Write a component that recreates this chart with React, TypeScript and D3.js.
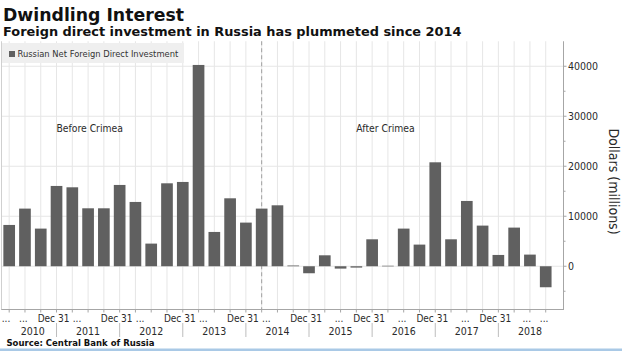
import React from "react";
import * as d3 from "d3";

const quarters = [
  "2010Q1","2010Q2","2010Q3","2010Q4","2011Q1","2011Q2","2011Q3","2011Q4",
  "2012Q1","2012Q2","2012Q3","2012Q4","2013Q1","2013Q2","2013Q3","2013Q4",
  "2014Q1","2014Q2","2014Q3","2014Q4","2015Q1","2015Q2","2015Q3","2015Q4",
  "2016Q1","2016Q2","2016Q3","2016Q4","2017Q1","2017Q2","2017Q3","2017Q4",
  "2018Q1","2018Q2","2018Q3",
];
const fdiValues = [
  8260, 11530, 7530, 16060, 15790, 11590, 11590, 16260, 12860, 4530,
  16590, 16860, 40260, 6860, 13590, 8730, 11530, 12190, 150, -1400,
  2190, -470, -270, 5390, 100, 7530, 4330, 20790, 5390, 13060,
  8130, 2260, 7730, 2330, -4200,
];
const yMajorTicks = [0, 10000, 20000, 30000, 40000];
const yMinorTicks = [-5000, 5000, 15000, 25000, 35000];
const decLabelIdx = [3, 7, 11, 15, 19, 23, 27, 31];
const dotsLabelIdx = [-0.2, 0.9, 4.3, 8.3, 12.3, 16.3, 20.9, 24.9, 28.9, 32.8, 33.9];
const years = ["2010","2011","2012","2013","2014","2015","2016","2017","2018"];
const yearCenterIdx = [1.5, 5, 9, 13, 17, 21, 25, 29, 33];
const yearSepIdx = [3, 7, 11, 15, 19, 23, 27, 31];
const crimeaIdx = 16;
const annotations = [
  { text: "Before Crimea", idx: 5.1, value: 26900 },
  { text: "After Crimea", idx: 23.85, value: 26900 },
];

const W = 622, H = 351;
const COND = "'DejaVu Sans Condensed', 'DejaVu Sans', sans-serif";
const BOLD = "'DejaVu Sans', sans-serif";

export default function App() {
  const plotLeft = 1.3, plotRight = 563.5, plotTop = 41.25, plotBottom = 309.5;
  const x = d3.scaleBand<string>().domain(quarters).range([plotLeft, 553.6]).paddingInner(0.26).paddingOuter(0.13);
  const step = x.step();
  const xc = (i: number) => (x(quarters[0]) as number) + x.bandwidth() / 2 + i * step;
  const y = d3.scaleLinear().domain([-8750, 45000]).range([310, plotTop]);
  const grid = "#e6e6e6";
  const axisCol = "#a6a6a6";
  const textCol = "#2a2a2a";

  return (
    <svg width={W} height={H} style={{ position: "absolute", left: 0, top: 0, background: "#fff" }}>
      <rect x={0} y={0} width={W} height={H} fill="#fff" />
      {/* title */}
      <text x={3} y={20.7} fontFamily={BOLD} fontWeight="bold" fontSize={17.3} fill="#111">Dwindling Interest</text>
      <text x={3} y={36} fontFamily={BOLD} fontWeight="bold" fontSize={12.9} fill="#111">Foreign direct investment in Russia has plummeted since 2014</text>

      {/* gridlines */}
      {yMajorTicks.map((t) => (
        <line key={"hg" + t} x1={plotLeft} x2={plotRight} y1={y(t)} y2={y(t)} stroke={grid} strokeWidth={1} />
      ))}
      {quarters.map((q, i) => (
        <line key={"vg" + q} x1={xc(i)} x2={xc(i)} y1={plotTop} y2={plotBottom} stroke={grid} strokeWidth={1} />
      ))}
      <line x1={1.5} x2={1.5} y1={plotTop} y2={plotBottom} stroke="#d0d0d0" />

      {/* crimea line */}
      <line x1={xc(crimeaIdx)} x2={xc(crimeaIdx)} y1={plotTop} y2={plotBottom} stroke="#a0a0a0" strokeDasharray="4,3" strokeWidth={1} />

      {/* bars */}
      {fdiValues.map((v, i) => (
        <rect key={"b" + i} x={x(quarters[i])} width={x.bandwidth()}
          y={y(Math.max(0, v))} height={Math.max(0.6, Math.abs(y(v) - y(0)))} fill="#606060" />
      ))}

      {/* legend */}
      <rect x={2} y={43} width={182} height={20} fill="#efefef" />
      <rect x={9} y={51} width={6} height={6} fill="#606060" />
      <text x={17.5} y={57.3} fontFamily={COND} fontSize={9.3} fill="#333">Russian Net Foreign Direct Investment</text>

      {/* annotations */}
      {annotations.map((a) => (
        <text key={a.text} x={xc(a.idx)} y={y(a.value)} textAnchor="middle" fontFamily={COND} fontSize={10.3} fill={textCol}>{a.text}</text>
      ))}

      {/* right axis */}
      <line x1={plotRight} x2={plotRight} y1={plotTop} y2={plotBottom + 0.5} stroke={axisCol} strokeWidth={1} />
      {yMajorTicks.map((t) => (
        <g key={"yt" + t}>
          <line x1={plotRight} x2={plotRight + 3} y1={y(t)} y2={y(t)} stroke={axisCol} />
          <text x={plotRight + 4.5} y={y(t) + 3.8} fontFamily={COND} fontSize={10.5} fill={textCol}>{t}</text>
        </g>
      ))}
      {yMinorTicks.map((t) => (
        <line key={"ym" + t} x1={plotRight} x2={plotRight + 2} y1={y(t)} y2={y(t)} stroke={axisCol} />
      ))}
      <text transform={`translate(608.5,181.5) rotate(90)`} textAnchor="middle" fontFamily={COND} fontSize={14} fill={textCol}>Dollars (millions)</text>

      {/* x axis */}
      <line x1={plotLeft} x2={plotRight} y1={plotBottom} y2={plotBottom} stroke={axisCol} strokeWidth={1} />
      {quarters.map((q, i) => (
        <line key={"xt" + q} x1={xc(i)} x2={xc(i)} y1={plotBottom} y2={plotBottom + 3} stroke={axisCol} />
      ))}
      {decLabelIdx.map((i) => (
        <text key={"dec" + i} x={xc(i) - 3} y={322.3} textAnchor="middle" fontFamily={COND} fontSize={10} fill={textCol}>Dec 31</text>
      ))}
      {dotsLabelIdx.map((i) => (
        <text key={"dot" + i} x={xc(i)} y={322.3} textAnchor="middle" fontFamily={COND} fontSize={10} fill={textCol}>...</text>
      ))}
      {yearSepIdx.map((i) => (
        <line key={"ys" + i} x1={xc(i)} x2={xc(i)} y1={323} y2={337} stroke="#bdbdbd" />
      ))}
      {years.map((yr, k) => (
        <text key={yr} x={xc(yearCenterIdx[k])} y={334.8} textAnchor="middle" fontFamily={COND} fontSize={10.5} fill={textCol}>{yr}</text>
      ))}

      {/* source */}
      <text x={6.5} y={345.5} fontFamily={BOLD} fontWeight="bold" fontSize={8.5} fill="#111">Source: Central Bank of Russia</text>
      <rect x={0} y={348.5} width={W} height={2.5} fill="#a9c9e6" />
    </svg>
  );
}
